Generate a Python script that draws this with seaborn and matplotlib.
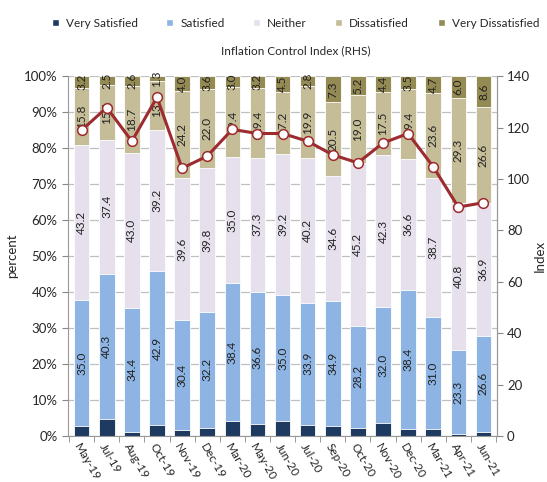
import numpy as np
import pandas as pd
import matplotlib
matplotlib.use("Agg")
import matplotlib.pyplot as plt
import seaborn as sns
from matplotlib.patches import Patch
from matplotlib.ticker import PercentFormatter

months = ["May-19", "Jul-19", "Aug-19", "Oct-19", "Nov-19", "Dec-19", "Mar-20", "May-20",
          "Jun-20", "Jul-20", "Sep-20", "Oct-20", "Nov-20", "Dec-20", "Mar-21", "Apr-21", "Jun-21"]
very_satisfied = [2.8, 4.7, 1.3, 3.0, 1.8, 2.4, 4.2, 3.5, 4.1, 3.2, 2.7, 2.4, 3.8, 2.1, 2.0, 0.6, 1.3]
satisfied = [35.0, 40.3, 34.4, 42.9, 30.4, 32.2, 38.4, 36.6, 35.0, 33.9, 34.9, 28.2, 32.0, 38.4, 31.0, 23.3, 26.6]
neither = [43.2, 37.4, 43.0, 39.2, 39.6, 39.8, 35.0, 37.3, 39.2, 40.2, 34.6, 45.2, 42.3, 36.6, 38.7, 40.8, 36.9]
dissatisfied = [15.8, 15.1, 18.7, 13.6, 24.2, 22.0, 19.4, 19.4, 17.2, 19.9, 20.5, 19.0, 17.5, 19.4, 23.6, 29.3, 26.6]
very_dissatisfied = [3.2, 2.5, 2.6, 1.3, 4.0, 3.6, 3.0, 3.2, 4.5, 2.8, 7.3, 5.2, 4.4, 3.5, 4.7, 6.0, 8.6]
inflation_index = [119.0, 127.8, 114.7, 131.8, 104.2, 108.9, 119.3, 117.7, 117.7, 114.7, 109.4,
                   106.3, 114.0, 117.7, 104.8, 89.1, 90.8]

series = {
    "Very Satisfied": very_satisfied,
    "Satisfied": satisfied,
    "Neither": neither,
    "Dissatisfied": dissatisfied,
    "Very Dissatisfied": very_dissatisfied,
}
colors = {
    "Very Satisfied": "#1f3a60",
    "Satisfied": "#8db4e2",
    "Neither": "#e6e0ec",
    "Dissatisfied": "#c4bd97",
    "Very Dissatisfied": "#948a54",
}

df = pd.DataFrame(series, index=months)
cum = df.cumsum(axis=1)

sns.set_style("white")
plt.rcParams["font.family"] = ["Lato", "DejaVu Sans"]

fig = plt.figure(figsize=(5.47, 4.82), dpi=100)
ax = fig.add_axes([0.124, 0.095, 0.785, 0.747])

ax.set_axisbelow(True)
ax.yaxis.grid(True, color="#c0c0c0", linewidth=0.9)

# draw stacked bars from the top down so each cumulative bar covers the previous
for name in reversed(list(series.keys())):
    sns.barplot(x=months, y=cum[name].values, color=colors[name], width=0.62,
                edgecolor="white", linewidth=0.6, ax=ax, saturation=1)

# segment labels
for name in ["Satisfied", "Neither", "Dissatisfied", "Very Dissatisfied"]:
    mids = cum[name] - df[name] / 2
    for i, (v, m) in enumerate(zip(df[name], mids)):
        ax.text(i, m, f"{v:.1f}", rotation=90, ha="center", va="center",
                fontsize=8.5, color="#222222")

ax.set_ylim(0, 100)
ax.set_yticks(np.arange(0, 101, 10))
ax.yaxis.set_major_formatter(PercentFormatter(decimals=0))
ax.set_xlim(-0.55, len(months) - 0.45)
ax.set_ylabel("percent", fontsize=9.5)
ax.set_xlabel("")
ax.tick_params(axis="y", labelsize=9.5, length=4, color="#888888", left=True)
ax.set_xticks(range(len(months)))
ax.set_xticklabels(months, rotation=-60, ha="left", va="top", rotation_mode="anchor", fontsize=8.5)
ax.tick_params(axis="x", length=0, pad=4)
ax.set_xticks(np.arange(-0.5, len(months), 1), minor=True)
ax.tick_params(axis="x", which="minor", length=4, color="#888888", bottom=True)

for s in ["left", "bottom", "right"]:
    ax.spines[s].set_color("#999999")
ax.spines["top"].set_visible(False)

ax2 = ax.twinx()
sns.lineplot(x=np.arange(len(months)), y=inflation_index, ax=ax2, color="#9e2b2f",
             linewidth=2.2, marker="o", markersize=7, markerfacecolor="white",
             markeredgecolor="#9e2b2f", markeredgewidth=1.1)
ax2.set_ylim(0, 140)
ax2.set_yticks(np.arange(0, 141, 20))
ax2.set_ylabel("Index", fontsize=9.5, labelpad=3)
ax2.tick_params(axis="y", labelsize=9.5, length=4, color="#888888", right=True, pad=3)
ax2.spines["top"].set_visible(False)
ax2.spines["right"].set_color("#999999")
ax2.spines["left"].set_visible(False)
ax2.spines["bottom"].set_visible(False)

handles = [Patch(facecolor=colors[n], label=n) for n in series]
fig.legend(handles=handles, loc="upper center", bbox_to_anchor=(0.54, 0.985), ncol=5,
           frameon=False, fontsize=8.5, handlelength=0.6, handleheight=0.6,
           columnspacing=2.4, handletextpad=0.6)
fig.text(0.54, 0.895, "Inflation Control Index (RHS)", ha="center", va="center", fontsize=8.5)

fig.savefig("out.png", dpi=100)
